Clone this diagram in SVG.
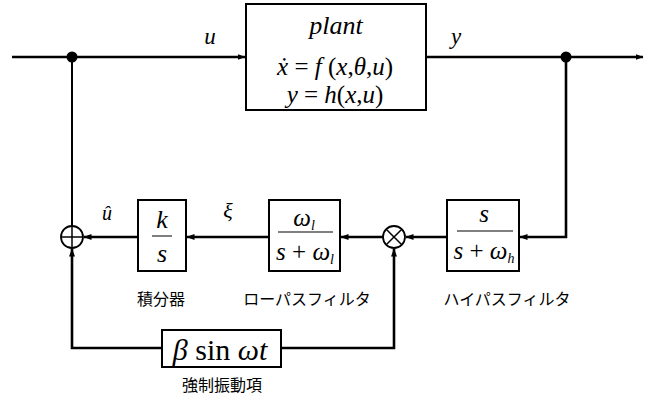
<svg xmlns="http://www.w3.org/2000/svg" width="653" height="400" viewBox="0 0 653 400">
<style>
.box{fill:#fff;stroke:#000;stroke-width:2}
.ln{fill:none;stroke:#000;stroke-width:2.6}
.thin{fill:none;stroke:#000;stroke-width:2}
.i{font-style:italic}
.jp{font-size:16px;fill:#000;text-anchor:middle}
.frac{stroke:#555;stroke-width:1.5}
</style>
<defs>
<marker id="ah" markerWidth="8" markerHeight="6" refX="7.5" refY="3" orient="auto" markerUnits="userSpaceOnUse">
<path d="M0,0 L8,3 L0,6 Z" fill="#000"/>
</marker>
</defs>
<rect width="653" height="400" fill="#fff"/>
<g id="connectors">
<line class="ln" x1="12" y1="57" x2="245" y2="57" marker-end="url(#ah)"/>
<line class="ln" x1="426" y1="57" x2="643" y2="57" marker-end="url(#ah)"/>
<line class="thin" x1="72" y1="57" x2="72" y2="226"/>
<polyline class="ln" points="566,57 566,237 520,237" marker-end="url(#ah)"/>
<line class="ln" x1="447" y1="237" x2="406" y2="237" marker-end="url(#ah)"/>
<line class="ln" x1="383" y1="237" x2="341" y2="237" marker-end="url(#ah)"/>
<line class="ln" x1="269" y1="237" x2="187" y2="237" marker-end="url(#ah)"/>
<line class="ln" x1="138" y1="237" x2="84" y2="237" marker-end="url(#ah)"/>
<polyline class="ln" points="162,348 72,348 72,249" marker-end="url(#ah)"/>
<polyline class="ln" points="281,348 394,348 394,249" marker-end="url(#ah)"/>
<circle cx="72" cy="57" r="5.5" fill="#000"/>
<circle cx="566" cy="57" r="5.5" fill="#000"/>
</g>
<g id="plant" font-family="Liberation Serif, serif">
<rect class="box" x="246" y="4" width="180" height="106"/>
<text class="i" x="336" y="34" font-size="26" text-anchor="middle">plant</text>
<text x="335" y="75" font-size="25" text-anchor="middle"><tspan class="i">x&#x307;</tspan> = <tspan class="i">f</tspan> (<tspan class="i">x</tspan>,<tspan class="i">θ</tspan>,<tspan class="i">u</tspan>)</text>
<text x="335" y="103" font-size="25" text-anchor="middle"><tspan class="i">y</tspan> = <tspan class="i">h</tspan>(<tspan class="i">x</tspan>,<tspan class="i">u</tspan>)</text>
</g>
<g id="labels" font-family="Liberation Serif, serif">
<text class="i" x="210" y="44" font-size="23" text-anchor="middle">u</text>
<text class="i" x="456" y="44" font-size="23" text-anchor="middle">y</text>
<text class="i" x="107" y="220" font-size="20" text-anchor="middle">û</text>
<text class="i" x="228" y="218" font-size="22" text-anchor="middle">ξ</text>
</g>
<g id="sum">
<circle cx="72" cy="237" r="11" fill="#fff" stroke="#000" stroke-width="1.8"/>
<line x1="61" y1="237" x2="83" y2="237" stroke="#000" stroke-width="1.5"/>
<line x1="72" y1="226" x2="72" y2="248" stroke="#000" stroke-width="1.5"/>
</g>
<g id="mult">
<circle cx="394" cy="237" r="11" fill="#fff" stroke="#000" stroke-width="1.8"/>
<line x1="386.2" y1="229.2" x2="401.8" y2="244.8" stroke="#000" stroke-width="1.5"/>
<line x1="401.8" y1="229.2" x2="386.2" y2="244.8" stroke="#000" stroke-width="1.5"/>
</g>
<g id="integrator" font-family="Liberation Serif, serif">
<rect class="box" x="138" y="200" width="48" height="71"/>
<text class="i" x="162" y="228" font-size="26" text-anchor="middle">k</text>
<line class="frac" x1="152" y1="236" x2="172" y2="236"/>
<text class="i" x="162" y="262" font-size="26" text-anchor="middle">s</text>
<text class="jp" font-family="Noto Sans CJK JP, sans-serif" x="161" y="305">積分器</text>
</g>
<g id="lpf" font-family="Liberation Serif, serif">
<rect class="box" x="269" y="200" width="71" height="71"/>
<text class="i" x="304" y="226" font-size="25" text-anchor="middle">ω<tspan font-size="14" dy="4">l</tspan></text>
<line class="frac" x1="278" y1="232" x2="333" y2="232"/>
<text class="i" x="305" y="260" font-size="25" text-anchor="middle">s<tspan font-style="normal"> + </tspan>ω<tspan font-size="14" dy="4">l</tspan></text>
<text class="jp" font-family="Noto Sans CJK JP, sans-serif" x="307" y="305">ローパスフィルタ</text>
</g>
<g id="hpf" font-family="Liberation Serif, serif">
<rect class="box" x="447" y="200" width="72" height="71"/>
<text class="i" x="484" y="222" font-size="25" text-anchor="middle">s</text>
<line class="frac" x1="457" y1="231" x2="513" y2="231"/>
<text class="i" x="484" y="259" font-size="25" text-anchor="middle">s <tspan font-style="normal">+</tspan> ω<tspan font-size="14" dy="4">h</tspan></text>
<text class="jp" font-family="Noto Sans CJK JP, sans-serif" x="507" y="305">ハイパスフィルタ</text>
</g>
<g id="forcing" font-family="Liberation Serif, serif">
<rect class="box" x="162" y="330" width="119" height="37"/>
<text x="220" y="360" font-size="30" text-anchor="middle"><tspan class="i">β</tspan> sin <tspan class="i">ωt</tspan></text>
<text class="jp" font-family="Noto Sans CJK JP, sans-serif" x="222" y="391">強制振動項</text>
</g>
</svg>
